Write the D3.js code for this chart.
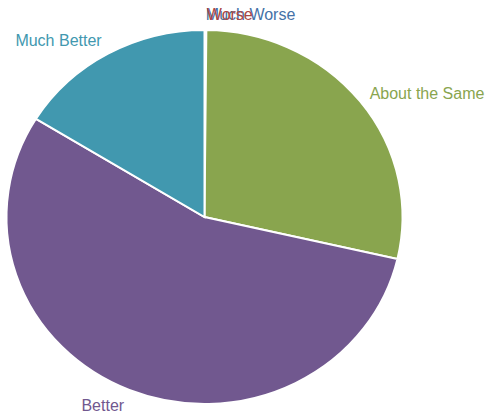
<!DOCTYPE html>
<html>
<head>
<meta charset="utf-8">
<script src="https://cdn.jsdelivr.net/npm/d3@7"></script>
<style>
  html, body { margin: 0; padding: 0; background: #fff; }
  svg { display: block; }
  text { font-family: "Liberation Sans", Arial, Helvetica, sans-serif; font-size: 16px; }
</style>
</head>
<body>
<svg id="chart" width="488" height="419"></svg>
<script>
// Survey responses, share of answers (%)
const categories = ["Much Worse", "Worse", "About the Same", "Better", "Much Better"];
const values = [0.05, 0.1, 28.45, 55.2, 16.2];
const colors = ["#4572A7", "#AA4643", "#89A54E", "#71588F", "#4198AF"];

const width = 488, height = 419;
const cx = 204.5, cy = 217;
const rx = 198, ry = 187;          // pie is drawn slightly flattened
const sy = ry / rx;
const labelR = 209;

const data = categories.map((c, i) => ({ name: c, value: values[i], color: colors[i] }));

const pie = d3.pie().value(d => d.value).sort(null);
const arcs = pie(data);
const arc = d3.arc().innerRadius(0).outerRadius(rx);

const svg = d3.select("#chart");

const g = svg.append("g")
  .attr("transform", `translate(${cx},${cy}) scale(1,${sy})`);

g.selectAll("path")
  .data(arcs)
  .join("path")
  .attr("d", arc)
  .attr("fill", d => d.data.color)
  .attr("stroke", "#fff")
  .attr("stroke-width", 2)
  .attr("vector-effect", "non-scaling-stroke");

// labels placed just outside the rim, anchored away from the centre
const labels = svg.append("g");
arcs.forEach(d => {
  const a = (d.startAngle + d.endAngle) / 2;
  const s = Math.sin(a), c = Math.cos(a);
  const px = cx + labelR * s;
  const py = cy - labelR * c * sy;
  const right = s >= 0;
  labels.append("text")
    .attr("x", px + (right ? 1 : -1))
    .attr("y", py + 11.5 * (1 - c) / 2 + 3 * s * s)
    .attr("text-anchor", right ? "start" : "end")
    .attr("fill", d.data.color)
    .text(d.data.name);
});
</script>
</body>
</html>
